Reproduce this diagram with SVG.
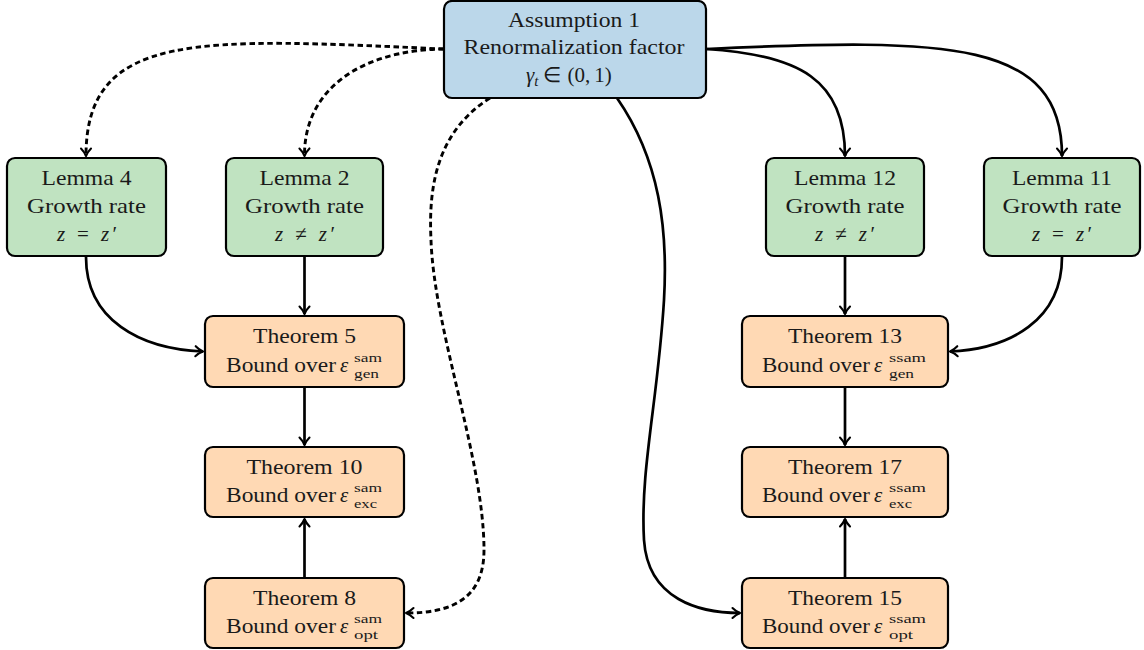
<svg xmlns="http://www.w3.org/2000/svg" width="1144" height="650" viewBox="0 0 1144 650" font-family="'Liberation Serif', 'Times New Roman', serif">
<defs>
<style>
.box{stroke:#000;stroke-width:2.2}
.asm{fill:#BBD7EA}
.lem{fill:#C0E3C1}
.thm{fill:#FFD9B4}
text{font-family:'Liberation Serif','Times New Roman',serif;font-size:21px;fill:#1a1a1a}
.c{text-anchor:middle}
.it{font-style:italic}
.sm{font-size:15px}
.ss{font-size:13.5px}
.con{fill:none;stroke:#000;stroke-width:2.7}
.dash{stroke-dasharray:5.5 3.5;stroke-width:2.9}
</style>
<marker id="arr" viewBox="-10 -7 12 14" refX="0" refY="0" markerWidth="12" markerHeight="14" markerUnits="userSpaceOnUse" orient="auto" overflow="visible">
<path d="M-7.5,-5 C-4.5,-2 -1.5,-0.6 0,0 C-1.5,0.6 -4.5,2 -7.5,5" fill="none" stroke="#000" stroke-width="2.1" stroke-linecap="round" stroke-linejoin="round"/>
</marker>
</defs>
<g id="connectors">
<path class="con dash" d="M444,49 C200,38 86,30 86,156" marker-end="url(#arr)"/>
<path class="con dash" d="M444,49 C360,50 304,90 304.5,156" marker-end="url(#arr)"/>
<path class="con dash" d="M490,98 C440,130 428,180 431,240 C434,330 484,460 484,550 C484,600 450,613 406,613" marker-end="url(#arr)"/>
<path class="con" d="M706,49 C800,55 845,80 845,156" marker-end="url(#arr)"/>
<path class="con" d="M706,49 C950,38 1062,40 1062,156" marker-end="url(#arr)"/>
<path class="con" d="M617,98 C660,160 668,230 664,300 C658,400 640,470 644,540 C648,600 700,613 740,613" marker-end="url(#arr)"/>
<path class="con" d="M86,257 C86,320 140,349 203,351.5" marker-end="url(#arr)"/>
<path class="con" d="M1062,257 C1062,320 1010,349 950,351.5" marker-end="url(#arr)"/>
<path class="con" d="M304.5,257 L304.5,314" marker-end="url(#arr)"/>
<path class="con" d="M304.5,388 L304.5,445" marker-end="url(#arr)"/>
<path class="con" d="M304.5,577 L304.5,519" marker-end="url(#arr)"/>
<path class="con" d="M845,257 L845,314" marker-end="url(#arr)"/>
<path class="con" d="M845,388 L845,445" marker-end="url(#arr)"/>
<path class="con" d="M845,577 L845,519" marker-end="url(#arr)"/>
</g>
<g id="assumption1">
<rect class="box asm" x="444" y="1" width="262" height="97" rx="8"/>
<text class="c" x="574" y="27" textLength="132" lengthAdjust="spacingAndGlyphs">Assumption 1</text>
<text class="c" x="574" y="54" textLength="221" lengthAdjust="spacingAndGlyphs">Renormalization factor</text>
<text x="526" y="82"><tspan class="it">γ</tspan><tspan class="it sm" dy="4">t</tspan><tspan dy="-4" dx="5">∈</tspan><tspan dx="6">(0,</tspan><tspan dx="4">1)</tspan></text>
</g>
<g id="lemma4">
<rect class="box lem" x="7" y="158" width="159" height="98" rx="8"/>
<text class="c" x="86.5" y="185" textLength="90" lengthAdjust="spacingAndGlyphs">Lemma 4</text>
<text class="c" x="86.5" y="213" textLength="119" lengthAdjust="spacingAndGlyphs">Growth rate</text>
<text class="c" x="87" y="241" textLength="60" lengthAdjust="spacing"><tspan class="it">z</tspan> = <tspan class="it">z</tspan>′</text>
</g>
<g id="lemma2">
<rect class="box lem" x="226" y="158" width="157" height="98" rx="8"/>
<text class="c" x="304.5" y="185" textLength="90" lengthAdjust="spacingAndGlyphs">Lemma 2</text>
<text class="c" x="304.5" y="213" textLength="119" lengthAdjust="spacingAndGlyphs">Growth rate</text>
<text class="c" x="305" y="241" textLength="60" lengthAdjust="spacing"><tspan class="it">z</tspan> ≠ <tspan class="it">z</tspan>′</text>
</g>
<g id="lemma12">
<rect class="box lem" x="766" y="158" width="158" height="98" rx="8"/>
<text class="c" x="845" y="185" textLength="102" lengthAdjust="spacingAndGlyphs">Lemma 12</text>
<text class="c" x="845" y="213" textLength="119" lengthAdjust="spacingAndGlyphs">Growth rate</text>
<text class="c" x="845" y="241" textLength="60" lengthAdjust="spacing"><tspan class="it">z</tspan> ≠ <tspan class="it">z</tspan>′</text>
</g>
<g id="lemma11">
<rect class="box lem" x="984" y="158" width="156" height="98" rx="8"/>
<text class="c" x="1062" y="185" textLength="100" lengthAdjust="spacingAndGlyphs">Lemma 11</text>
<text class="c" x="1062" y="213" textLength="119" lengthAdjust="spacingAndGlyphs">Growth rate</text>
<text class="c" x="1062" y="241" textLength="60" lengthAdjust="spacing"><tspan class="it">z</tspan> = <tspan class="it">z</tspan>′</text>
</g>
<g id="theorem5">
<rect class="box thm" x="205" y="316" width="199" height="71" rx="8"/>
<text class="c" x="304.5" y="343" textLength="103" lengthAdjust="spacingAndGlyphs">Theorem 5</text>
<text y="372"><tspan x="226" textLength="110" lengthAdjust="spacingAndGlyphs">Bound over</tspan><tspan class="it" x="340">ε</tspan><tspan class="ss" x="354" y="362" textLength="28" lengthAdjust="spacingAndGlyphs">sam</tspan><tspan class="ss" x="354" y="378" textLength="25" lengthAdjust="spacingAndGlyphs">gen</tspan></text>
</g>
<g id="theorem10">
<rect class="box thm" x="205" y="447" width="199" height="70" rx="8"/>
<text class="c" x="304.5" y="474" textLength="116" lengthAdjust="spacingAndGlyphs">Theorem 10</text>
<text y="502"><tspan x="226" textLength="110" lengthAdjust="spacingAndGlyphs">Bound over</tspan><tspan class="it" x="340">ε</tspan><tspan class="ss" x="354" y="492" textLength="28" lengthAdjust="spacingAndGlyphs">sam</tspan><tspan class="ss" x="354" y="508" textLength="23" lengthAdjust="spacingAndGlyphs">exc</tspan></text>
</g>
<g id="theorem8">
<rect class="box thm" x="205" y="578" width="199" height="70" rx="8"/>
<text class="c" x="304.5" y="605" textLength="103" lengthAdjust="spacingAndGlyphs">Theorem 8</text>
<text y="633"><tspan x="226" textLength="110" lengthAdjust="spacingAndGlyphs">Bound over</tspan><tspan class="it" x="340">ε</tspan><tspan class="ss" x="354" y="623" textLength="28" lengthAdjust="spacingAndGlyphs">sam</tspan><tspan class="ss" x="354" y="639" textLength="24" lengthAdjust="spacingAndGlyphs">opt</tspan></text>
</g>
<g id="theorem13">
<rect class="box thm" x="742" y="316" width="206" height="71" rx="8"/>
<text class="c" x="845" y="343" textLength="114" lengthAdjust="spacingAndGlyphs">Theorem 13</text>
<text y="372"><tspan x="762" textLength="108" lengthAdjust="spacingAndGlyphs">Bound over</tspan><tspan class="it" x="874">ε</tspan><tspan class="ss" x="889" y="362" textLength="37" lengthAdjust="spacingAndGlyphs">ssam</tspan><tspan class="ss" x="889" y="378" textLength="25" lengthAdjust="spacingAndGlyphs">gen</tspan></text>
</g>
<g id="theorem17">
<rect class="box thm" x="742" y="447" width="206" height="70" rx="8"/>
<text class="c" x="845" y="474" textLength="114" lengthAdjust="spacingAndGlyphs">Theorem 17</text>
<text y="502"><tspan x="762" textLength="108" lengthAdjust="spacingAndGlyphs">Bound over</tspan><tspan class="it" x="874">ε</tspan><tspan class="ss" x="889" y="492" textLength="37" lengthAdjust="spacingAndGlyphs">ssam</tspan><tspan class="ss" x="889" y="508" textLength="23" lengthAdjust="spacingAndGlyphs">exc</tspan></text>
</g>
<g id="theorem15">
<rect class="box thm" x="742" y="578" width="206" height="70" rx="8"/>
<text class="c" x="845" y="605" textLength="114" lengthAdjust="spacingAndGlyphs">Theorem 15</text>
<text y="633"><tspan x="762" textLength="108" lengthAdjust="spacingAndGlyphs">Bound over</tspan><tspan class="it" x="874">ε</tspan><tspan class="ss" x="889" y="623" textLength="37" lengthAdjust="spacingAndGlyphs">ssam</tspan><tspan class="ss" x="889" y="639" textLength="24" lengthAdjust="spacingAndGlyphs">opt</tspan></text>
</g>
</svg>
